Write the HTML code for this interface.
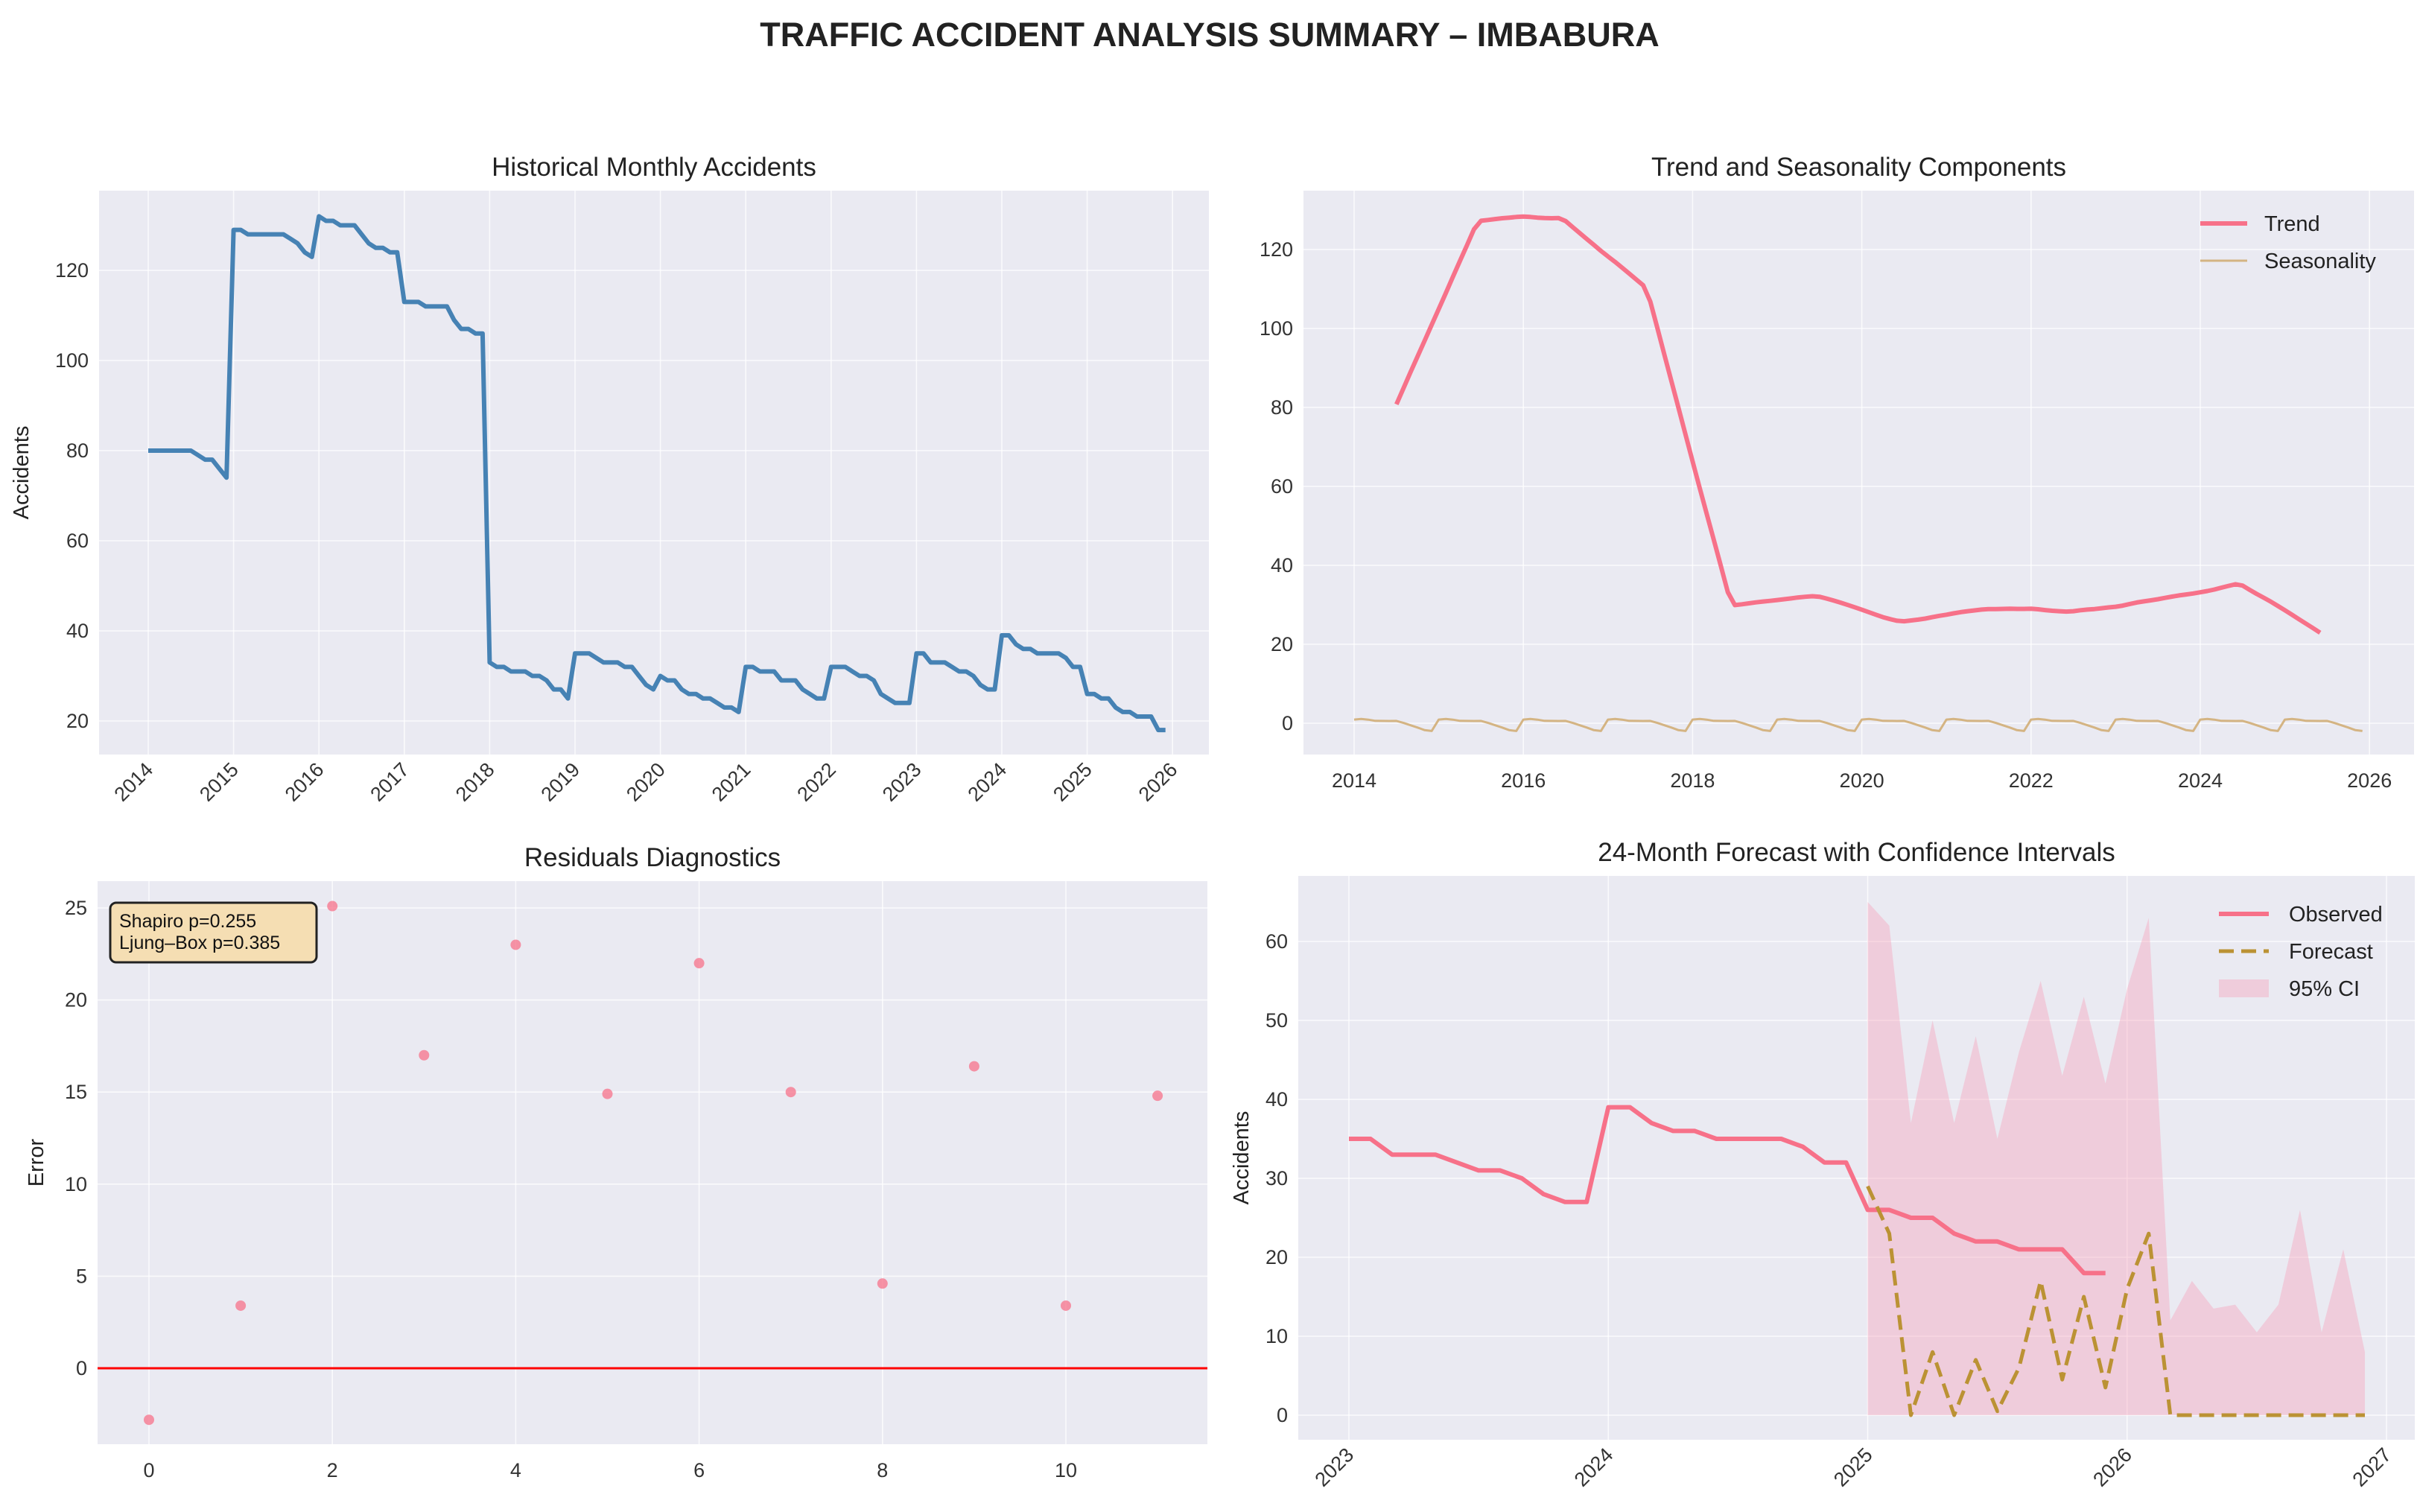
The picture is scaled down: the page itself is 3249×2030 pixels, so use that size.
<!DOCTYPE html>
<html><head><meta charset="utf-8"><style>
html,body{margin:0;padding:0;background:#fff;}
svg{display:block;font-family:"Liberation Sans",Arial,sans-serif;}
</style></head><body>
<svg id="fig" width="3249" height="2030" viewBox="0 0 3249 2030" xmlns="http://www.w3.org/2000/svg">
<text x="1624" y="62" text-anchor="middle" font-size="45" font-weight="bold" fill="#222">TRAFFIC ACCIDENT ANALYSIS SUMMARY – IMBABURA</text>
</svg>
<script>
const observed = [
80,80,80,80,80,80,80,79,78,78,76,74,
129,129,128,128,128,128,128,128,127,126,124,123,
132,131,131,130,130,130,128,126,125,125,124,124,
113,113,113,112,112,112,112,109,107,107,106,106,
33,32,32,31,31,31,30,30,29,27,27,25,
35,35,35,34,33,33,33,32,32,30,28,27,
30,29,29,27,26,26,25,25,24,23,23,22,
32,32,31,31,31,29,29,29,27,26,25,25,
32,32,32,31,30,30,29,26,25,24,24,24,
35,35,33,33,33,32,31,31,30,28,27,27,
39,39,37,36,36,35,35,35,35,34,32,32,
26,26,25,25,23,22,22,21,21,21,18,18];
const startYear = 2014;
const residuals = [-2.8,3.4,25.1,17,23,14.9,22,15,4.6,16.4,3.4,14.8];
const forecast = [29,23,0,8,0,7,0.5,6,17,4.5,15,3.5,16,23,0,0,0,0,0,0,0,0,0,0];
const ciUpper = [65,62,37,50,37,48,35,46,55,43,53,42,54,63,12,17,13.5,14,10.5,14,26,10.5,21,8];
const ciLower = [0,0,0,0,0,0,0,0,0,0,0,0,0,0,0,0,0,0,0,0,0,0,0,0];
const forecastStart = 2025;
const tlYTicks = [20,40,60,80,100,120];
const tlXTicks = [2014,2015,2016,2017,2018,2019,2020,2021,2022,2023,2024,2025,2026];
const trYTicks = [0,20,40,60,80,100,120];
const trXTicks = [2014,2016,2018,2020,2022,2024,2026];
const blYTicks = [0,5,10,15,20,25];
const blXTicks = [0,2,4,6,8,10];
const brYTicks = [0,10,20,30,40,50,60];
const brXTicks = [2023,2024,2025,2026,2027];

const svg = document.getElementById('fig');
const NS = 'http://www.w3.org/2000/svg';
function mk(tag, attrs, parent){
  const e = document.createElementNS(NS, tag);
  for (const k in attrs) e.setAttribute(k, attrs[k]);
  (parent||svg).appendChild(e);
  return e;
}
function txt(s, attrs){ const t = mk('text', attrs); t.textContent = s; return t; }

function axes(name, x0,y0,x1,y1, xs, ys, xt, yt, title, xfmt, rotate, ylabel, ylabelX){
  const g = mk('g', {});
  
  
  const bg = mk('rect', {x:x0,y:y0,width:x1-x0,height:y1-y0,fill:'#eaeaf2'}, g);
  
  
  yt.forEach(v=>{
    const y = ys(v);
    const l = mk('line',{x1:x0,x2:x1,y1:y,y2:y,stroke:'#fff','stroke-width':1.6,'stroke-opacity':0.75}, g);
    
    
    const t = txt(String(v), {x:x0-14,y:y+9,'text-anchor':'end','font-size':27,fill:'#333'});
    
    
  });
  xt.forEach(v=>{
    const x = xs(v);
    const l = mk('line',{x1:x,x2:x,y1:y0,y2:y1,stroke:'#fff','stroke-width':1.6,'stroke-opacity':0.75}, g);
    
    
    let t;
    if (rotate) {
      t = txt(xfmt(v), {x:x+8,y:y1+22,'text-anchor':'end','font-size':27,fill:'#333',transform:`rotate(-45 ${x+8} ${y1+22})`});
    } else {
      t = txt(xfmt(v), {x:x,y:y1+44,'text-anchor':'middle','font-size':27,fill:'#333'});
    }
    
    
  });
  const tt = txt(title, {x:(x0+x1)/2,y:y0-20,'text-anchor':'middle','font-size':35,fill:'#222'});
  
  
  if (ylabel){
    const cy=(y0+y1)/2;
    const yl = txt(ylabel, {x:ylabelX,y:cy,'text-anchor':'middle','font-size':29,fill:'#222',transform:`rotate(-90 ${ylabelX} ${cy})`});
    
    
  }
  return g;
}
function poly(pts, attrs){
  return mk('polyline', Object.assign({points:pts.map(p=>p[0].toFixed(1)+','+p[1].toFixed(1)).join(' '),fill:'none','stroke-linejoin':'round'}, attrs));
}

// ---- Top-left: historical
const tlx = t => 199 + (t-2014)*114.6;
const tly = v => 968 - (v-20)*6.05;
axes('historical-chart',133,256,1623,1013,tlx,tly,tlXTicks,tlYTicks,'Historical Monthly Accidents',v=>String(v),true,'Accidents',38);
const histLine = poly(observed.map((v,i)=>[tlx(startYear+i/12), tly(v)]), {stroke:'#4682b4','stroke-width':6});



// ---- Top-right: decomposition
const n = observed.length;
const trend = new Array(n).fill(null);
for (let i=6;i<n-6;i++){
  let s = 0.5*observed[i-6] + 0.5*observed[i+6];
  for (let k=-5;k<=5;k++) s += observed[i+k];
  trend[i] = s/12;
}
const mAvg = new Array(12).fill(0), mCnt = new Array(12).fill(0);
for (let i=0;i<n;i++) if (trend[i]!==null){ mAvg[i%12]+=observed[i]-trend[i]; mCnt[i%12]++; }
for (let m=0;m<12;m++) mAvg[m]/=mCnt[m];
const mMean = mAvg.reduce((a,b)=>a+b,0)/12;
const seasonal = observed.map((_,i)=>mAvg[i%12]-mMean);
const trx = t => 1818 + (t-2014)*113.6;
const tr_y = v => 971 - v*5.3;
axes('decomposition-chart',1750,256,3241,1013,trx,tr_y,trXTicks,trYTicks,'Trend and Seasonality Components',v=>String(v),false,null,0);
const seasLine = poly(seasonal.map((v,i)=>[trx(startYear+i/12), tr_y(v)]), {stroke:'#d4b483','stroke-width':3});


const trendPts = [];
trend.forEach((v,i)=>{ if(v!==null) trendPts.push([trx(startYear+i/12), tr_y(v)]); });
const trendLine = poly(trendPts, {stroke:'#f77189','stroke-width':6});


const lg1 = mk('g',{});


mk('line',{x1:2954,x2:3017,y1:300,y2:300,stroke:'#f77189','stroke-width':6},lg1);
txt('Trend',{x:3040,y:310,'font-size':29,fill:'#222'});
mk('line',{x1:2954,x2:3017,y1:350,y2:350,stroke:'#d4b483','stroke-width':3},lg1);
txt('Seasonality',{x:3040,y:360,'font-size':29,fill:'#222'});

// ---- Bottom-left: residuals
const blx = i => 200 + i*123.1;
const bly = v => 1837 - v*24.72;
axes('residuals-chart',131,1183,1621,1939,blx,bly,blXTicks,blYTicks,'Residuals Diagnostics',v=>String(v),false,'Error',58);
const zl = mk('line',{x1:131,x2:1621,y1:bly(0),y2:bly(0),stroke:'#ff0000','stroke-width':3});


residuals.forEach((v,i)=>{
  const c = mk('circle',{cx:blx(i),cy:bly(v),r:7,fill:'#f77189','fill-opacity':0.75});
  
  
});
const box = mk('g',{});


mk('rect',{x:148,y:1212,width:277,height:80,rx:8,fill:'#f5deb3',stroke:'#222','stroke-width':3},box);
txt('Shapiro p=0.255',{x:160,y:1245,'font-size':25,fill:'#111'});
txt('Ljung–Box p=0.385',{x:160,y:1274,'font-size':25,fill:'#111'});

// ---- Bottom-right: forecast
const brx = t => 1811 + (t-2023)*348.25;
const bry = v => 1900 - v*10.6;
axes('forecast-chart',1743,1176,3242,1933,brx,bry,brXTicks,brYTicks,'24-Month Forecast with Confidence Intervals',v=>String(v),true,'Accidents',1676);
const ciPts = [];
ciUpper.forEach((v,i)=>ciPts.push([brx(forecastStart+i/12), bry(v)]));
for (let i=ciLower.length-1;i>=0;i--) ciPts.push([brx(forecastStart+i/12), bry(ciLower[i])]);
const ci = mk('polygon',{points:ciPts.map(p=>p[0].toFixed(1)+','+p[1].toFixed(1)).join(' '),fill:'#f7a0b8','fill-opacity':0.4});


const obsPts = [];
observed.forEach((v,i)=>{ const t=startYear+i/12; if(t>=2023-1e-9) obsPts.push([brx(t), bry(v)]); });
const obsLine = poly(obsPts, {stroke:'#f77189','stroke-width':6});


const fcLine = poly(forecast.map((v,i)=>[brx(forecastStart+i/12), bry(v)]), {stroke:'#bb9234','stroke-width':5,'stroke-dasharray':'20 10'});


const lg2 = mk('g',{});


mk('line',{x1:2979,x2:3046,y1:1227,y2:1227,stroke:'#f77189','stroke-width':6},lg2);
txt('Observed',{x:3073,y:1237,'font-size':29,fill:'#222'});
mk('line',{x1:2979,x2:3046,y1:1277,y2:1277,stroke:'#bb9234','stroke-width':5,'stroke-dasharray':'20 10'},lg2);
txt('Forecast',{x:3073,y:1287,'font-size':29,fill:'#222'});
mk('rect',{x:2979,y:1315,width:67,height:24,fill:'#f7a0b8','fill-opacity':0.4},lg2);
txt('95% CI',{x:3073,y:1337,'font-size':29,fill:'#222'});
</script>
</body></html>
